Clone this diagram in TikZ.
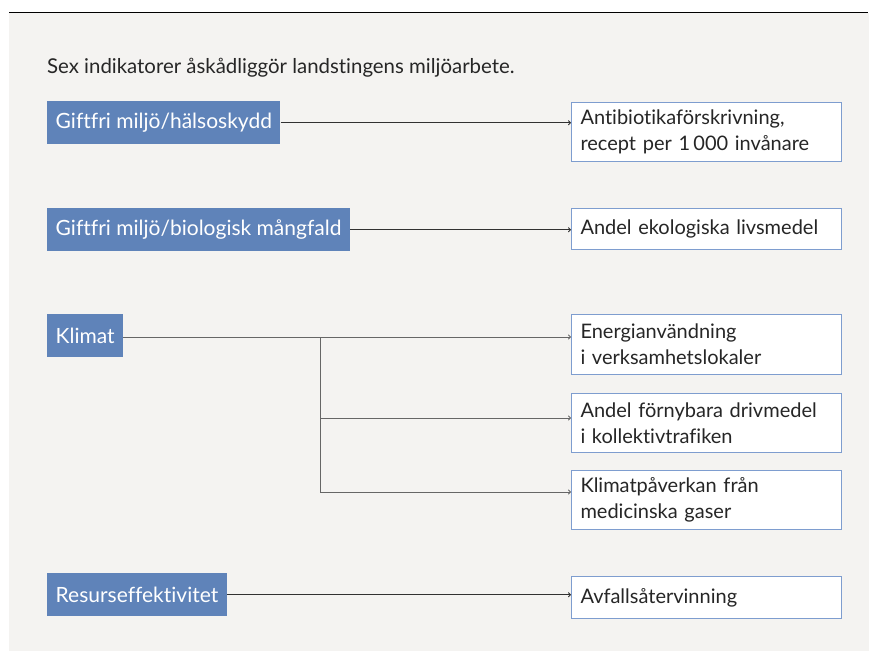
\documentclass[tikz,border=0pt]{standalone}
\usepackage{fontspec}
\setmainfont{Lato}[Ligatures=NoCommon]
\usepackage{xcolor}
\usetikzlibrary{arrows.meta}
\definecolor{paper}{HTML}{F4F3F1}
\definecolor{goalblue}{HTML}{5F83B9}
\definecolor{framebl}{HTML}{7E9DCF}
\definecolor{ink}{HTML}{262626}
\tikzset{
  goal/.style={fill=goalblue, text=white, anchor=north west, inner xsep=8.5pt,
    minimum height=43pt, font=\fontsize{21}{24}\selectfont},
  indicator/.style={draw=framebl, line width=1pt, fill=white, text=ink, anchor=north west,
    minimum width=270pt, text width=252pt, inner xsep=8.5pt, align=left,
    font=\fontsize{20}{26}\selectfont},
  link/.style={draw=ink!95, line width=0.9pt, -{To[length=3pt,width=5pt]}},
  branch/.style={draw=black!60, line width=1pt}
}
\begin{document}
\begin{tikzpicture}[x=1pt, y=-1pt]
\useasboundingbox (0,0) rectangle (870,654);
\fill[paper] (9,13) rectangle (869,651);
\draw[line width=1.2pt] (9,12.5) -- (868,12.5);
\node[anchor=base west, text=ink, inner sep=0pt, font=\fontsize{20.4}{24}\selectfont] (title) at (47,73) {Sex indikatorer åskådliggör landstingens miljöarbete.};

% goals
\node[goal] (halsa) at (47,101) {Giftfri miljö/hälsoskydd};
\node[goal] (mangfald) at (47,208) {Giftfri miljö/biologisk mångfald};
\node[goal] (klimat) at (47,314) {Klimat};
\node[goal] (resurs) at (47,573) {Resurseffektivitet};

% indicators
\node[indicator, minimum height=59pt] (antibio) at (571,102) {Antibiotikaförskrivning,\\recept per 1\,000 invånare};
\node[indicator, minimum height=41pt] (ekolog) at (571,208) {Andel ekologiska livsmedel};
\node[indicator, minimum height=60pt] (energi) at (571,314) {Energianvändning\\i verksamhetslokaler};
\node[indicator, minimum height=59pt] (fornybar) at (571,393) {Andel förnybara drivmedel\\i kollektivtrafiken};
\node[indicator, minimum height=59pt] (gaser) at (571,470) {Klimatpåverkan från\\medicinska gaser};
\node[indicator, minimum height=42pt] (avfall) at (571,576) {Avfallsåtervinning};

% connectors
\draw[link] (halsa.east) -- (halsa.east -| antibio.west);
\draw[link] (mangfald.east) -- (mangfald.east -| ekolog.west);
\draw[link] (resurs.east) -- (resurs.east -| avfall.west);
\coordinate (knut) at (320,337);
\coordinate (gren1) at (320,418);
\coordinate (gren2) at (320,492);
\draw[link, black!60] (klimat.east |- knut) -- (knut -| energi.west);
\draw[branch] (knut) -- (gren2);
\draw[link, black!60] (gren1) -- (gren1 -| fornybar.west);
\draw[link, black!60] (gren2) -- (gren2 -| gaser.west);
\end{tikzpicture}
\end{document}
